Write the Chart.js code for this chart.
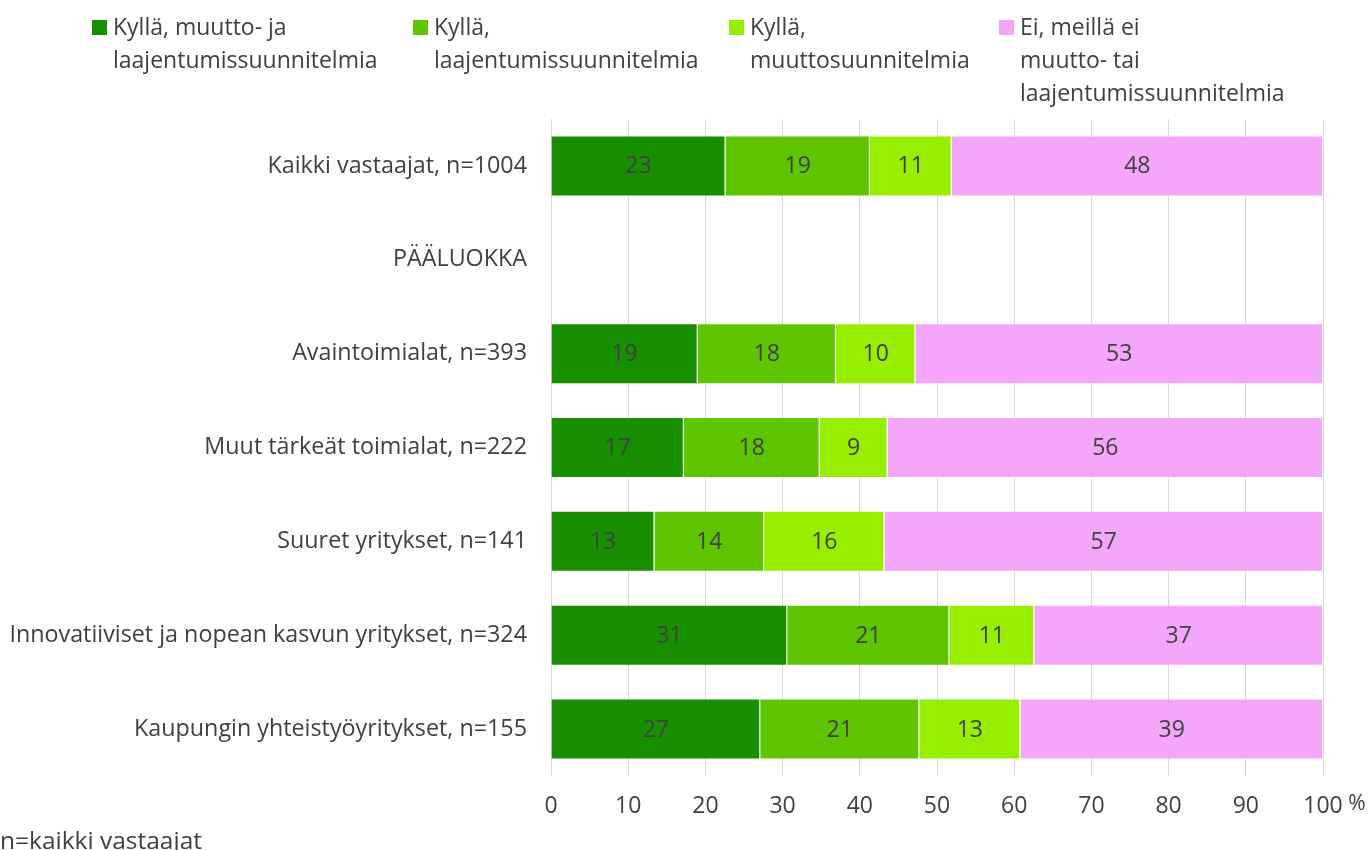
<!DOCTYPE html>
<html>
<head>
<meta charset="utf-8">
<script src="https://cdn.jsdelivr.net/npm/chart.js@4/dist/chart.umd.min.js"></script>
<style>
  body { margin: 0; background: #fff; font-family: "Open Sans", sans-serif; color: #404040; }
  #wrap { position: relative; width: 1369px; height: 850px; overflow: hidden; }
  .leg { position: absolute; top: 10px; font-size: 23px; line-height: 33px; white-space: nowrap; }
  .leg span.box { position: absolute; left: -21px; top: 10px; width: 15px; height: 15px; }
  #note { position: absolute; left: 0; top: 824px; font-size: 24.5px; line-height: 31px; }
</style>
</head>
<body>
<div id="wrap">
  <canvas id="myChart" width="1369" height="850"></canvas>
  <div id="legend"></div>
  <div id="note">n=kaikki vastaajat</div>
</div>
<script>
// categories (PÄÄLUOKKA is a heading row with no bars)
const categories = ['Kaikki vastaajat, n=1004', 'PÄÄLUOKKA', 'Avaintoimialat, n=393',
    'Muut tärkeät toimialat, n=222', 'Suuret yritykset, n=141',
    'Innovatiiviset ja nopean kasvun yritykset, n=324', 'Kaupungin yhteistyöyritykset, n=155']

const muuttoJaLaaj = [22.6, null, 19.0, 17.2, 13.4, 30.6, 27.1]
const laajennus = [18.7, null, 17.9, 17.6, 14.2, 21.0, 20.6]
const muutto = [10.6, null, 10.3, 8.8, 15.6, 11.0, 13.1]
const eiSuunnitelmia = [48.1, null, 52.8, 56.4, 56.8, 37.4, 39.2]

const xTicks = [0, 10, 20, 30, 40, 50, 60, 70, 80, 90, 100]

const seriesNames = [
    ['Kyllä, muutto- ja', 'laajentumissuunnitelmia'],
    ['Kyllä,', 'laajentumissuunnitelmia'],
    ['Kyllä,', 'muuttosuunnitelmia'],
    ['Ei, meillä ei', 'muutto- tai', 'laajentumissuunnitelmia']
]
const colors = ['#188f00', '#5ec500', '#98ee00', '#f3a6fa']
const legendX = [113, 434, 750, 1020]

// html legend
const legend = document.getElementById('legend')
seriesNames.forEach((lines, i) => {
    const d = document.createElement('div')
    d.className = 'leg'
    d.style.left = legendX[i] + 'px'
    d.innerHTML = '<span class="box" style="background:' + colors[i] + '"></span>' + lines.join('<br>')
    legend.appendChild(d)
})

// numbers inside bars + the % after 100
const barLabels = {
    id: 'barLabels',
    afterDatasetsDraw(chart) {
        const c = chart.ctx
        c.save()
        c.font = '23px "Open Sans"'
        c.fillStyle = '#404040'
        c.textAlign = 'center'
        c.textBaseline = 'middle'
        chart.data.datasets.forEach((ds, i) => {
            chart.getDatasetMeta(i).data.forEach((bar, j) => {
                const v = ds.data[j]
                if (v == null) return
                c.fillText(Math.round(v), (bar.x + bar.base) / 2, bar.y + 1)
            })
        })
        const xs = chart.scales.x
        c.font = '21px "Open Sans"'
        c.fillText('%', xs.getPixelForValue(100) + 34, 804)
        c.restore()
    }
}

const ctx = document.getElementById('myChart').getContext('2d')
const myChart = new Chart(ctx, {
    type: 'bar',
    data: {
        labels: categories,
        datasets: [muuttoJaLaaj, laajennus, muutto, eiSuunnitelmia].map((d, i) => ({
            label: seriesNames[i].join(' '),
            data: d,
            backgroundColor: colors[i],
            borderColor: 'rgba(255,255,255,0.45)',
            borderWidth: 1,
            barPercentage: 0.65,
            categoryPercentage: 1
        }))
    },
    options: {
        indexAxis: 'y',
        responsive: false,
        animation: false,
        layout: { padding: { top: 119, right: 46, left: 0, bottom: 0 } },
        plugins: {
            legend: { display: false },
            tooltip: { enabled: false }
        },
        scales: {
            x: {
                stacked: true,
                min: 0,
                max: 100,
                afterBuildTicks: s => { s.ticks = xTicks.map(v => ({ value: v })) },
                afterFit: s => { s.height = 74 },
                ticks: { color: '#404040', font: { family: 'Open Sans', size: 23 }, padding: 17 },
                grid: { color: '#d9d9d9', drawTicks: false },
                border: { display: false }
            },
            y: {
                stacked: true,
                afterFit: s => { s.width = 551 },
                ticks: { color: '#404040', font: { family: 'Open Sans', size: 23.3 }, padding: 24 },
                grid: { display: false, drawTicks: false },
                border: { display: false }
            }
        }
    },
    plugins: [barLabels]
})
</script>
</body>
</html>
